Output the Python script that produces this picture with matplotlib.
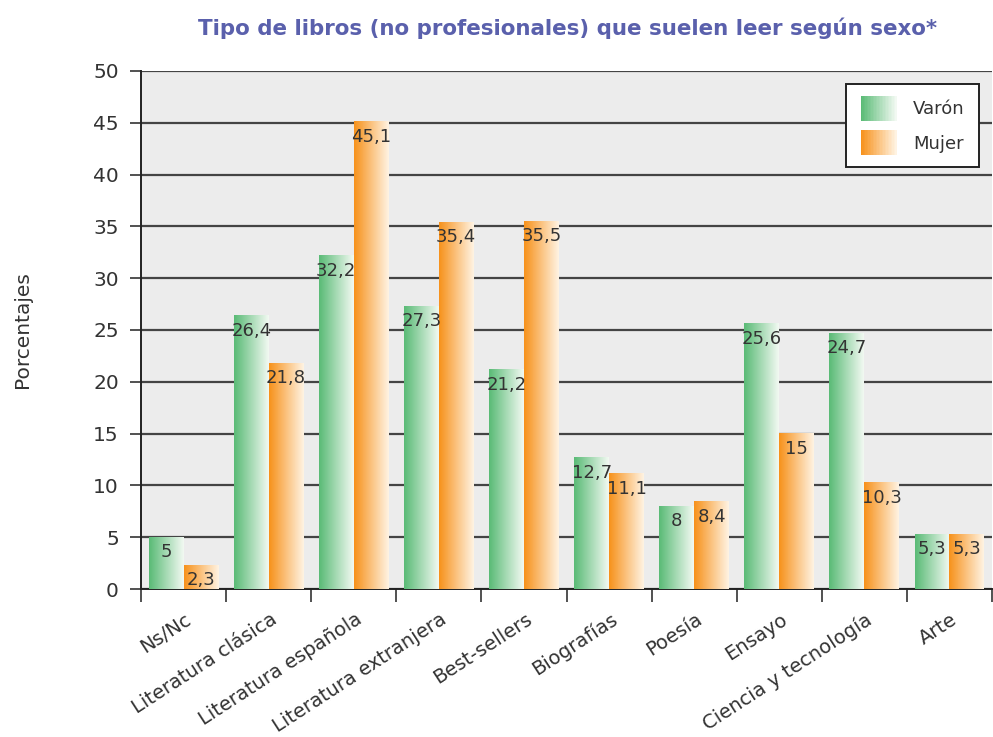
import numpy as np
import matplotlib
matplotlib.use("Agg")
import matplotlib.pyplot as plt
import matplotlib.transforms as mtransforms
from matplotlib.colors import LinearSegmentedColormap
from matplotlib.legend_handler import HandlerBase
from matplotlib.patches import Rectangle, Patch

# Data
categorias = ["Ns/Nc", "Literatura clásica", "Literatura española", "Literatura extranjera",
              "Best-sellers", "Biografías", "Poesía", "Ensayo", "Ciencia y tecnología", "Arte"]
varon = [5, 26.4, 32.2, 27.3, 21.2, 12.7, 8, 25.6, 24.7, 5.3]
mujer = [2.3, 21.8, 45.1, 35.4, 35.5, 11.1, 8.4, 15, 10.3, 5.3]
series_names = ["Varón", "Mujer"]

plt.rcParams['font.family'] = ['DejaVu Sans']

green_cmap = LinearSegmentedColormap.from_list("g", ["#5abb76", "#f2f9f2"])
orange_cmap = LinearSegmentedColormap.from_list("o", ["#f7921c", "#fff3e2"])
grad = np.linspace(0, 1, 64).reshape(1, -1)

fig = plt.figure(figsize=(9.93, 7.37), dpi=100)
ax = fig.add_axes([0.142, 0.2008, 0.857, 0.7029])
ax.set_facecolor("#ececec")

x = np.arange(len(categorias))
w = 0.41


def fmt(v):
    s = f"{v:g}"
    return s.replace(".", ",")


for i in range(len(categorias)):
    for j, (vals, cmap) in enumerate([(varon, green_cmap), (mujer, orange_cmap)]):
        x0 = x[i] - w + j * w
        h = vals[i]
        ax.imshow(grad, cmap=cmap, aspect="auto", extent=(x0, x0 + w, 0, h),
                  zorder=3, interpolation="bilinear")
        ax.text(x0 + w / 2, h - 0.6, fmt(h), ha="center", va="top",
                fontsize=13, color="#333333", zorder=4)

ax.set_xlim(-0.5, len(categorias) - 0.5)
ax.set_ylim(0, 50)
ax.set_yticks(np.arange(0, 51, 5))
ax.yaxis.grid(True, color="#444444", linewidth=1.6, zorder=1)
ax.set_axisbelow(True)
ax.tick_params(axis="y", labelsize=14.5, length=8, width=1.2, color="#333333",
               labelcolor="#333333", pad=8)

# x ticks at category boundaries, labels at centers
ax.set_xticks(np.arange(-0.5, len(categorias), 1.0))
ax.set_xticklabels([])
ax.set_xticks(x, minor=True)
ax.set_xticklabels(categorias, minor=True, rotation=33, ha="right", va="top",
                   rotation_mode="anchor", fontsize=14, color="#333333")
ax.tick_params(axis="x", which="major", length=9, width=1.2, color="#333333")
ax.tick_params(axis="x", which="minor", length=0, pad=15)
offset = mtransforms.ScaledTranslation(0.01, 0, fig.dpi_scale_trans)
for lab in ax.get_xticklabels(minor=True):
    lab.set_transform(lab.get_transform() + offset)

for s in ["top", "right"]:
    ax.spines[s].set_visible(False)
for s in ["left", "bottom"]:
    ax.spines[s].set_color("#222222")
    ax.spines[s].set_linewidth(1.4)

ax.set_ylabel("Porcentajes", fontsize=14.5, color="#333333", labelpad=44)

fig.text(0.572, 0.962, "Tipo de libros (no profesionales) que suelen leer según sexo*",
         ha="center", va="center", fontsize=15.4, fontweight="bold", color="#5a60ac")


class GradientHandler(HandlerBase):
    def __init__(self, cmap):
        super().__init__()
        self.cmap = cmap

    def create_artists(self, legend, orig_handle, xdescent, ydescent, width, height,
                       fontsize, trans):
        n = 24
        arts = []
        for k in range(n):
            r = Rectangle((-xdescent + width * k / n, -ydescent - 2), width / n + 0.3, height + 4,
                          facecolor=self.cmap(k / (n - 1)), edgecolor="none", transform=trans)
            arts.append(r)
        return arts


h1, h2 = Patch(label="Varón"), Patch(label="Mujer")
leg = ax.legend([h1, h2], series_names, loc="upper right", bbox_to_anchor=(0.985, 0.975),
                handler_map={h1: GradientHandler(green_cmap), h2: GradientHandler(orange_cmap)},
                fontsize=13, frameon=True, fancybox=False, edgecolor="#222222",
                framealpha=1, facecolor="white", borderaxespad=0,
                handlelength=2.0, handleheight=1.3, handletextpad=0.9, labelspacing=0.8,
                borderpad=0.8)
leg.get_frame().set_linewidth(1.4)
for t in leg.get_texts():
    t.set_color("#333333")
leg.set_zorder(5)

fig.savefig("out.png", dpi=100)
